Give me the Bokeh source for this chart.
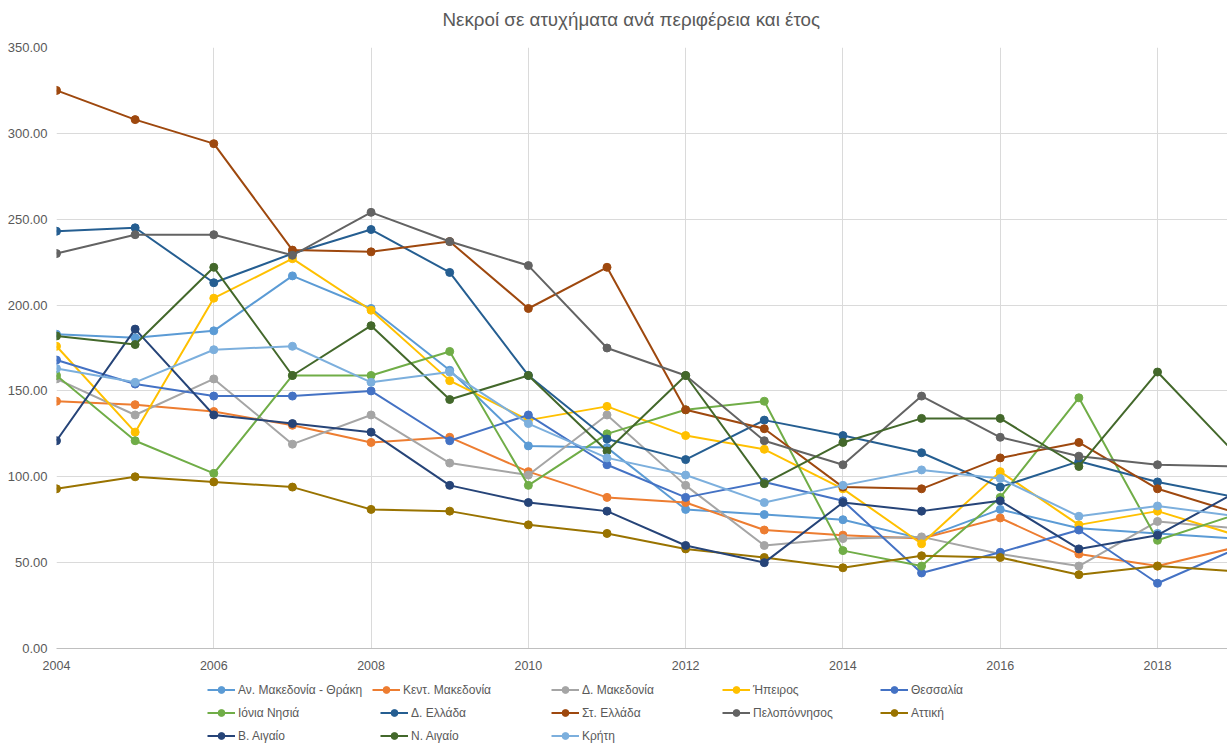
from bokeh.plotting import figure
from bokeh.layouts import column
from bokeh.models import (Range1d, FixedTicker, NumeralTickFormatter, Legend,
                          LegendItem, ColumnDataSource, Title)
from bokeh.embed import file_html
from bokeh.resources import INLINE

# Years covered by the series
years = list(range(2004, 2020))

# Road accident deaths per region and year
regions = [
    "Αν. Μακεδονία - Θράκη", "Κεντ. Μακεδονία", "Δ. Μακεδονία", "Ήπειρος",
    "Θεσσαλία", "Ιόνια Νησιά", "Δ. Ελλάδα", "Στ. Ελλάδα", "Πελοπόννησος",
    "Αττική", "Β. Αιγαίο", "Ν. Αιγαίο", "Κρήτη",
]

an_makedonia_thraki = [183, 181, 185, 217, 198, 162, 118, 117, 81, 78, 75, 64, 81, 70, 67, 64]
kent_makedonia = [144, 142, 138, 130, 120, 123, 103, 88, 85, 69, 66, 64, 76, 55, 48, 59]
d_makedonia = [157, 136, 157, 119, 136, 108, 101, 136, 95, 60, 64, 65, 55, 48, 74, 70]
ipeiros = [176, 126, 204, 227, 197, 156, 133, 141, 124, 116, 93, 61, 103, 72, 80, 66]
thessalia = [168, 154, 147, 147, 150, 121, 136, 107, 88, 97, 86, 44, 56, 69, 38, 58]
ionia_nisia = [159, 121, 102, 159, 159, 173, 95, 125, 139, 144, 57, 48, 88, 146, 63, 78]
d_ellada = [243, 245, 213, 230, 244, 219, 159, 122, 110, 133, 124, 114, 94, 109, 97, 88]
st_ellada = [325, 308, 294, 232, 231, 237, 198, 222, 139, 128, 94, 93, 111, 120, 93, 79]
peloponnisos = [230, 241, 241, 229, 254, 237, 223, 175, 159, 121, 107, 147, 123, 112, 107, 106]
attiki = [93, 100, 97, 94, 81, 80, 72, 67, 58, 53, 47, 54, 53, 43, 48, 45]
v_aigaio = [121, 186, 136, 131, 126, 95, 85, 80, 60, 50, 85, 80, 86, 58, 66, 91]
n_aigaio = [182, 177, 222, 159, 188, 145, 159, 115, 159, 96, 120, 134, 134, 106, 161, 113]
kriti = [163, 155, 174, 176, 155, 161, 131, 111, 101, 85, 95, 104, 99, 77, 83, 77]

series = [an_makedonia_thraki, kent_makedonia, d_makedonia, ipeiros, thessalia,
          ionia_nisia, d_ellada, st_ellada, peloponnisos, attiki, v_aigaio,
          n_aigaio, kriti]

colors = ["#5b9bd5", "#ed7d31", "#a5a5a5", "#ffc000", "#4472c4", "#70ad47",
          "#255e91", "#9e480e", "#636363", "#997300", "#264478", "#43682b",
          "#7cafdd"]

x_ticks = list(range(2004, 2019, 2))
y_ticks = list(range(0, 351, 50))

FONT = "Liberation Sans"
TEXT = "#595959"

# ---- main chart -------------------------------------------------------------
p = figure(width=1227, height=672, output_backend="svg", toolbar_location=None,
           x_range=Range1d(2004, 2018.89), y_range=Range1d(0, 350),
           min_border_left=56, min_border_right=0, min_border_top=46,
           min_border_bottom=24)

p.title.text = "Νεκροί σε ατυχήματα ανά περιφέρεια και έτος"
p.title.align = "left"
p.title.offset = 386
p.title.standoff = 13
p.title.text_font = FONT
p.title.text_font_size = "18.8px"
p.title.text_font_style = "normal"
p.title.text_color = TEXT

# thin spacer between the heading and the plot area
p.add_layout(Title(text=" ", text_font_size="1px", standoff=8), "above")

p.outline_line_color = None
p.background_fill_color = "white"
p.border_fill_color = "white"

p.xaxis.ticker = FixedTicker(ticks=x_ticks)
p.yaxis.ticker = FixedTicker(ticks=y_ticks)
p.yaxis.formatter = NumeralTickFormatter(format="0.00")

for ax in (p.xaxis, p.yaxis):
    ax.major_tick_line_color = None
    ax.minor_tick_line_color = None
    ax.major_label_text_font = FONT
    ax.major_label_text_color = TEXT
p.xaxis.major_label_text_font_size = "12.5px"
p.yaxis.major_label_text_font_size = "13px"
p.yaxis.axis_line_color = None
p.xaxis.axis_line_color = "#bfbfbf"
p.yaxis.major_label_standoff = 3
p.xaxis.major_label_standoff = 6

p.xgrid.grid_line_color = "#dadada"
p.ygrid.grid_line_color = "#dadada"

for vals, col in zip(series, colors):
    src = ColumnDataSource(dict(x=years, y=vals))
    p.line("x", "y", source=src, line_color=col, line_width=2)
    p.scatter("x", "y", source=src, size=8, fill_color=col, line_color=col)

# ---- legend strip below the chart -------------------------------------------
leg = figure(width=1227, height=72, output_backend="svg", toolbar_location=None,
             x_range=Range1d(0, 1), y_range=Range1d(0, 1),
             x_axis_type=None, y_axis_type=None, min_border=0)
leg.outline_line_color = None
leg.background_fill_color = "white"
leg.border_fill_color = "white"

# (left edge, bottom offset) of each legend entry, relative to the aligned plot area
legend_slots = [
    (151, 46), (316, 46), (495, 46), (666, 46), (824, 46),
    (151, 23), (324, 23), (495, 23), (666, 23), (824, 23),
    (151, 0), (324, 0), (495, 0),
]

# key glyphs only: their single point lies outside the strip's visible range
key_data = dict(x=[-5], y=[-5])
for name, col, (lx, ly) in zip(regions, colors, legend_slots):
    key_src = ColumnDataSource(key_data)
    ln = leg.line("x", "y", source=key_src, line_color=col, line_width=2)
    sc = leg.scatter("x", "y", source=key_src, size=8, fill_color=col, line_color=col)
    lg = Legend(items=[LegendItem(label=name, renderers=[ln, sc])],
                location=(lx, ly), label_text_font=FONT,
                label_text_font_size="12px", label_text_color=TEXT,
                glyph_width=28, glyph_height=17, label_height=17,
                label_standoff=3, spacing=0, padding=0, margin=0,
                border_line_color=None, background_fill_alpha=0)
    leg.add_layout(lg)

layout = column(p, leg, spacing=0)

open("out.html", "w").write(file_html(layout, INLINE))
